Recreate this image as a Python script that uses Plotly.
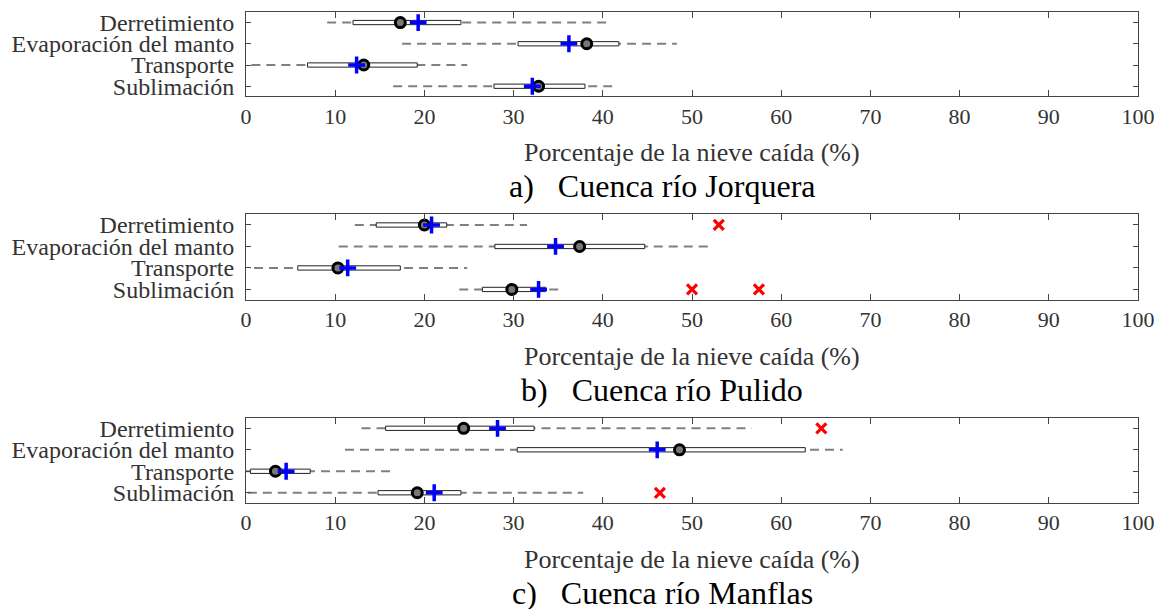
import plotly.graph_objects as go

categories = ["Derretimiento", "Evaporación del manto", "Transporte", "Sublimación"]
cat_pos = [4, 3, 2, 1]

# Cuenca río Jorquera
jor_lo = [9.1, 17.5, 0.6, 16.5]
jor_q1 = [12.0, 30.5, 6.9, 27.8]
jor_med = [17.3, 38.2, 13.2, 32.8]
jor_mean = [19.3, 36.2, 12.4, 32.1]
jor_q3 = [24.1, 41.8, 19.2, 38.0]
jor_hi = [40.8, 48.3, 24.8, 41.2]
jor_out = [[], [], [], []]

# Cuenca río Pulido
pul_lo = [12.2, 10.4, 0.9, 23.9]
pul_q1 = [14.6, 27.9, 5.8, 26.5]
pul_med = [20.0, 37.4, 10.3, 29.8]
pul_mean = [20.8, 34.7, 11.4, 32.8]
pul_q3 = [22.5, 44.7, 17.3, 33.6]
pul_hi = [31.5, 52.1, 24.8, 35.6]
pul_out = [[53.0], [], [], [50.0, 57.5]]

# Cuenca río Manflas
man_lo = [12.95, 11.1, 0.0, 0.2]
man_q1 = [15.65, 30.4, 0.5, 14.8]
man_med = [24.4, 48.6, 3.3, 19.2]
man_mean = [28.2, 46.1, 4.5, 21.1]
man_q3 = [32.3, 62.7, 7.2, 24.1]
man_hi = [56.7, 66.9, 16.5, 37.8]
man_out = [[64.5], [], [], [46.4]]

captions = ["a)   Cuenca río Jorquera", "b)   Cuenca río Pulido", "c)   Cuenca río Manflas"]
xlabel = "Porcentaje de la nieve caída (%)"
xticks = [0, 10, 20, 30, 40, 50, 60, 70, 80, 90, 100]

panels = [
    (jor_lo, jor_q1, jor_med, jor_mean, jor_q3, jor_hi, jor_out),
    (pul_lo, pul_q1, pul_med, pul_mean, pul_q3, pul_hi, pul_out),
    (man_lo, man_q1, man_med, man_mean, man_q3, man_hi, man_out),
]

W, H = 1160, 609
ML, MR = 246, 22
# panel pixel tops/bottoms
panel_px = [(10, 95), (214, 300), (419, 505)]

FONT = "Liberation Serif"
fig = go.Figure()
bh = 0.1

for i, (lo, q1, med, mn, q3, hi, out) in enumerate(panels):
    xa = "x" if i == 0 else f"x{i+1}"
    ya = "y" if i == 0 else f"y{i+1}"
    for j in range(4):
        y = cat_pos[j]
        # whisker
        fig.add_trace(go.Scatter(x=[lo[j], hi[j]], y=[y, y], mode="lines",
                                 line=dict(color="#808080", width=2, dash="9px,6px"),
                                 xaxis=xa, yaxis=ya, showlegend=False, hoverinfo="skip"))
        # box
        fig.add_trace(go.Scatter(x=[q1[j], q3[j], q3[j], q1[j], q1[j]],
                                 y=[y - bh, y - bh, y + bh, y + bh, y - bh],
                                 mode="lines", fill="toself", fillcolor="white",
                                 line=dict(color="#222222", width=1),
                                 xaxis=xa, yaxis=ya, showlegend=False, hoverinfo="skip"))
    # median
    fig.add_trace(go.Scatter(x=med, y=cat_pos, mode="markers",
                             marker=dict(symbol="circle", size=10, color="#777777",
                                         line=dict(color="black", width=3)),
                             xaxis=xa, yaxis=ya, showlegend=False))
    # mean
    fig.add_trace(go.Scatter(x=mn, y=cat_pos, mode="markers",
                             marker=dict(symbol="cross-thin", size=12,
                                         line=dict(color="#0000ff", width=3.5)),
                             xaxis=xa, yaxis=ya, showlegend=False))
    # outliers
    ox, oy = [], []
    for j in range(4):
        for v in out[j]:
            ox.append(v)
            oy.append(cat_pos[j])
    if ox:
        fig.add_trace(go.Scatter(x=ox, y=oy, mode="markers",
                                 marker=dict(symbol="x-thin", size=10,
                                             line=dict(color="#ff0000", width=3.2)),
                                 xaxis=xa, yaxis=ya, showlegend=False))

    top, bot = panel_px[i]
    dom = [1 - bot / H, 1 - top / H]
    axcommon = dict(showline=True, linecolor="#444444", linewidth=1, mirror="ticks",
                    ticks="inside", tickcolor="#444444", showgrid=False, zeroline=False)
    fig.update_layout(**{
        ("xaxis" if i == 0 else f"xaxis{i+1}"): dict(
            range=[0, 100], tickvals=xticks, ticklen=6,
            tickfont=dict(family=FONT, size=22, color="#333333"),
            anchor=ya, domain=[0, 1], **axcommon),
        ("yaxis" if i == 0 else f"yaxis{i+1}"): dict(
            range=[0.53, 4.5], tickvals=cat_pos, ticktext=categories, ticklen=5,
            tickfont=dict(family=FONT, size=24, color="#333333"),
            ticklabelstandoff=6,
            anchor=xa, domain=dom, **axcommon),
    })
    # axis title and caption
    fig.add_annotation(x=0.5, y=1 - (bot + 57) / H, xref="paper", yref="paper",
                       text=xlabel, showarrow=False, xanchor="center", yanchor="middle",
                       font=dict(family=FONT, size=26, color="#333333"))
    fig.add_annotation(x=(662 - ML) / (W - ML - MR), y=1 - (bot + 91) / H,
                       xref="paper", yref="paper",
                       text=captions[i].replace(" ", "&nbsp;"), showarrow=False,
                       xanchor="center", yanchor="middle",
                       font=dict(family=FONT, size=32, color="black"))

fig.update_layout(width=W, height=H, margin=dict(l=ML, r=MR, t=0, b=0),
                  paper_bgcolor="white", plot_bgcolor="white", showlegend=False)

fig.write_html("out.html", config={"displayModeBar": False},
               post_script="document.body.style.margin='0';document.body.style.overflow='hidden';")
